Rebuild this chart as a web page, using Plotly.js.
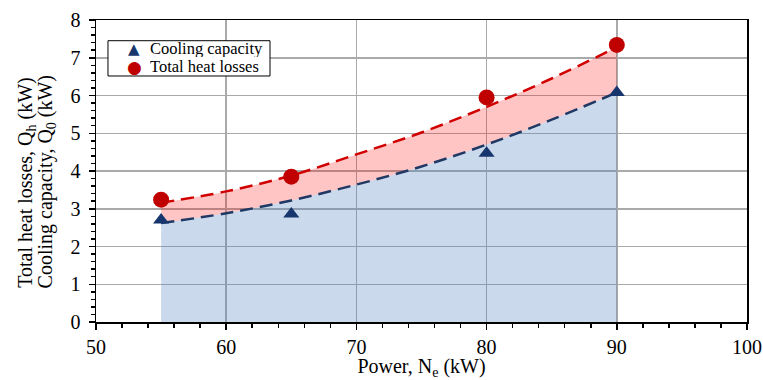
<!DOCTYPE html>
<html>
<head>
<meta charset="utf-8">
<script src="https://cdn.plot.ly/plotly-3.0.1.min.js"></script>
<style>html,body{margin:0;padding:0;background:#fff;}#chart{width:763px;height:380px;}</style>
</head>
<body>
<div id="chart"></div>
<script>
// Measured points
var powerX = [55, 65, 80, 90];
var coolingCapacity = [2.70, 2.86, 4.47, 6.08];
var totalHeatLosses = [3.24, 3.85, 5.95, 7.34];

// Fitted trend curves
var fitX = [55, 60, 65, 70, 75, 80, 85, 90];
var coolingFit = [2.62, 2.88, 3.22, 3.64, 4.12, 4.70, 5.36, 6.08];
var heatFit = [3.16, 3.46, 3.88, 4.44, 5.02, 5.70, 6.45, 7.28];

// Texts
var seriesNames = ['Cooling capacity', 'Total heat losses'];
var legendSymbols = ['\u25B2', '\u25CF'];
var xTitle = 'Power, N<sub>e</sub> (kW)';
var yTitleLines = ['Total heat losses, Q<sub>h</sub> (kW)', 'Cooling capacity, Q<sub>0</sub> (kW)'];

var serif = 'Liberation Serif, Times New Roman, serif';
var coolColor = '#17366e', heatColor = '#c00000';

var traces = [
  {x: fitX, y: coolingFit, type: 'scatter', mode: 'lines', line: {width: 0, shape: 'spline'},
   fill: 'tozeroy', fillcolor: 'rgba(79,129,189,0.30)', showlegend: false, hoverinfo: 'skip'},
  {x: fitX, y: heatFit, type: 'scatter', mode: 'lines', line: {width: 0, shape: 'spline'},
   fill: 'tonexty', fillcolor: 'rgba(255,0,0,0.23)', showlegend: false, hoverinfo: 'skip'},
  {x: fitX, y: coolingFit, type: 'scatter', mode: 'lines',
   line: {color: '#1f3864', width: 2.5, dash: '13px,7px', shape: 'spline'}, showlegend: false},
  {x: fitX, y: heatFit, type: 'scatter', mode: 'lines',
   line: {color: '#d00000', width: 2.5, dash: '13px,7px', shape: 'spline'}, showlegend: false},
  {x: powerX, y: coolingCapacity, type: 'scatter', mode: 'markers', name: seriesNames[0],
   marker: {symbol: 'triangle-up', size: 14, color: coolColor}, showlegend: false},
  {x: powerX, y: totalHeatLosses, type: 'scatter', mode: 'markers', name: seriesNames[1],
   marker: {symbol: 'circle', size: 16, color: heatColor}, showlegend: false}
];

var legendRowsY = [0.9056, 0.846];
var annotations = [
  {text: yTitleLines[0], xref: 'paper', yref: 'paper', x: -0.106, y: 0.464,
   xanchor: 'center', yanchor: 'middle', textangle: -90, showarrow: false,
   font: {family: serif, size: 20, color: '#000'}},
  {text: yTitleLines[1], xref: 'paper', yref: 'paper', x: -0.076, y: 0.464,
   xanchor: 'center', yanchor: 'middle', textangle: -90, showarrow: false,
   font: {family: serif, size: 20, color: '#000'}}
];
for (var i = 0; i < seriesNames.length; i++) {
  annotations.push({text: legendSymbols[i], xref: 'paper', yref: 'paper', x: 0.0588, y: legendRowsY[i],
    xanchor: 'center', yanchor: 'middle', showarrow: false, height: 17, valign: 'middle',
    font: {family: 'DejaVu Sans', size: i === 0 ? 15 : 17, color: i === 0 ? coolColor : heatColor}});
  annotations.push({text: seriesNames[i], xref: 'paper', yref: 'paper', x: 0.0795, y: legendRowsY[i],
    xanchor: 'left', yanchor: 'middle', showarrow: false, height: 17, valign: 'middle',
    font: {family: serif, size: 16.5, color: '#000'}});
}

var layout = {
  width: 763, height: 380,
  margin: {l: 96, r: 16, t: 20, b: 58},
  paper_bgcolor: '#fff', plot_bgcolor: '#fff',
  font: {family: serif, color: '#000', size: 18},
  showlegend: false,
  xaxis: {
    range: [50, 100], dtick: 10, tick0: 50,
    showgrid: true, gridcolor: '#aaaaaa', gridwidth: 1.5,
    showline: true, linecolor: '#000', linewidth: 1.5, mirror: true,
    ticks: 'outside', ticklen: 6, tickcolor: '#000', tickwidth: 1.5,
    minor: {dtick: 2, ticks: 'outside', ticklen: 4, tickcolor: '#000', showgrid: false},
    zeroline: false,
    tickfont: {family: serif, size: 20, color: '#000'},
    title: {text: xTitle, font: {family: serif, size: 20, color: '#000'}, standoff: 9}
  },
  yaxis: {
    range: [0, 8], dtick: 1, tick0: 0,
    showgrid: true, gridcolor: '#aaaaaa', gridwidth: 1.5,
    showline: true, linecolor: '#000', linewidth: 1.5, mirror: true,
    ticks: 'outside', ticklen: 6, tickcolor: '#000', tickwidth: 1.5,
    minor: {dtick: 0.2, ticks: 'outside', ticklen: 4, tickcolor: '#000', showgrid: false},
    zeroline: false, ticklabelstandoff: 4,
    tickfont: {family: serif, size: 20, color: '#000'}
  },
  shapes: [
    {type: 'rect', xref: 'paper', yref: 'paper', x0: 0.0184, x1: 0.2673, y0: 0.8146, y1: 0.9314,
     line: {color: '#000', width: 1}, fillcolor: '#fff', layer: 'above'}
  ],
  annotations: annotations
};

Plotly.newPlot('chart', traces, layout, {displayModeBar: false, staticPlot: true});
</script>
</body>
</html>
